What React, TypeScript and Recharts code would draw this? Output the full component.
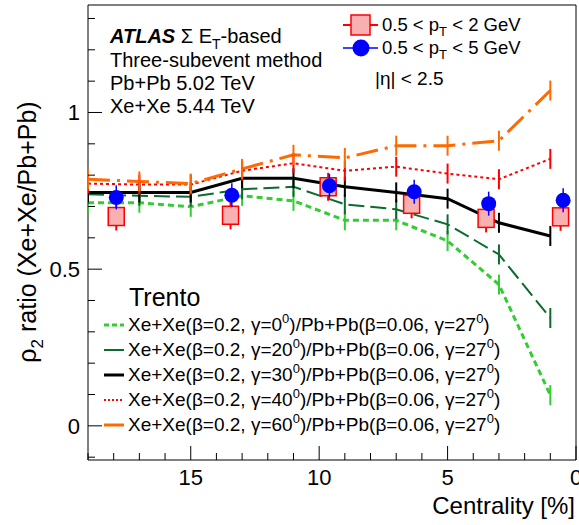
import React from "react";
import { ComposedChart, Line, Scatter, XAxis, YAxis, Customized } from "recharts";

const cent = [19, 17, 15, 13, 11, 9, 7, 5, 3, 1];
const g0 = [0.712, 0.712, 0.699, 0.734, 0.718, 0.656, 0.656, 0.59, 0.451, 0.098];
const g20 = [0.739, 0.734, 0.731, 0.755, 0.763, 0.707, 0.691, 0.643, 0.547, 0.344];
const g30 = [0.745, 0.745, 0.745, 0.79, 0.79, 0.763, 0.745, 0.725, 0.648, 0.606];
const g40 = [0.773, 0.77, 0.77, 0.814, 0.838, 0.814, 0.827, 0.805, 0.787, 0.852];
const g60 = [0.787, 0.78, 0.773, 0.82, 0.865, 0.855, 0.894, 0.894, 0.91, 1.07];
const redX = [17.9, 13.45, 9.65, 6.4, 3.5, 0.6];
const redY = [0.668, 0.672, 0.763, 0.707, 0.662, 0.667];
const blueX = [17.9, 13.4, 9.6, 6.3, 3.4, 0.5];
const blueY = [0.729, 0.736, 0.766, 0.747, 0.709, 0.72];
const xTicks = Array.from({ length: 20 }, (_, i) => i);
const yTicks = [-0.1, 0, 0.1, 0.2, 0.3, 0.4, 0.5, 0.6, 0.7, 0.8, 0.9, 1.0, 1.1, 1.2, 1.3];

const series = [
  { name: "0", vals: g0, color: "#33cc33", dash: "6 4", w: 3 },
  { name: "20", vals: g20, color: "#0d6b2e", dash: "16 6", w: 2 },
  { name: "30", vals: g30, color: "#000000", dash: undefined, w: 3 },
  { name: "40", vals: g40, color: "#ff0000", dash: "3 3", w: 2 },
  { name: "60", vals: g60, color: "#ff6a00", dash: "22 7 3 7", w: 3 },
];

const F = "Liberation Sans, Arial, sans-serif";

const tickDot = (color: string) => (p: any) =>
  <line key={p.index} x1={p.cx} x2={p.cx} y1={p.cy - 10} y2={p.cy + 10} stroke={color} strokeWidth={2} />;

const XTick = (p: any) => {
  const v = Math.round(p.payload.value);
  const major = v % 5 === 0;
  return (
    <g>
      <line x1={p.x} x2={p.x} y1={p.y} y2={p.y - (major ? 14 : 7)} stroke="#000" />
      {major && <text x={p.x} y={p.y + 25} textAnchor="middle" fontSize={22} fontFamily={F}>{v}</text>}
    </g>
  );
};
const XTopTick = (p: any) => {
  const v = Math.round(p.payload.value);
  const major = v % 5 === 0;
  return <line x1={p.x} x2={p.x} y1={p.y} y2={p.y + (major ? 14 : 7)} stroke="#000" />;
};
const YTick = (p: any) => {
  const v = Math.round(p.payload.value * 10) / 10;
  const major = Math.abs((v * 10) % 5) < 1e-6;
  const lbl = v === 0 ? "0" : v === 0.5 ? "0.5" : v === 1 ? "1" : "";
  return (
    <g>
      <line x1={p.x} x2={p.x + (major ? 14 : 7)} y1={p.y} y2={p.y} stroke="#000" />
      {lbl && <text x={p.x - 8} y={p.y + 8} textAnchor="end" fontSize={22} fontFamily={F}>{lbl}</text>}
    </g>
  );
};
const YRTick = (p: any) => {
  const v = Math.round(p.payload.value * 10) / 10;
  const major = Math.abs((v * 10) % 5) < 1e-6;
  return <line x1={p.x} x2={p.x - (major ? 14 : 7)} y1={p.y} y2={p.y} stroke="#000" />;
};

const RedShape = (p: any) => (
  <g>
    <line x1={p.cx} x2={p.cx} y1={p.cy - 14} y2={p.cy + 14} stroke="#ff0000" strokeWidth={2} />
    <rect x={p.cx - 8} y={p.cy - 9} width={16} height={18} fill="#f8b0b0" stroke="#ff0000" strokeWidth={1.5} />
  </g>
);
const BlueShape = (p: any) => (
  <g>
    <line x1={p.cx} x2={p.cx} y1={p.cy - 12} y2={p.cy + 12} stroke="#0000ff" strokeWidth={1.5} />
    <circle cx={p.cx} cy={p.cy} r={7.5} fill="#0000ff" />
  </g>
);

const redData = redX.map((x, i) => ({ x, y: redY[i] }));
const blueData = blueX.map((x, i) => ({ x, y: blueY[i] }));

export default function App() {
  const legY = [325, 350, 375, 400, 425];
  return (
    <div style={{ position: "fixed", left: 0, top: 0, width: 579, height: 525, background: "#fff" }}>
      <ComposedChart width={579} height={525} margin={{ top: 4, right: 2, bottom: 64, left: 87 }}>
        <XAxis xAxisId="b" type="number" dataKey="x" domain={[0, 19]} reversed ticks={xTicks} interval={0}
          tick={<XTick />} tickLine={false} tickSize={0} tickMargin={0} height={1} allowDataOverflow stroke="#000" />
        <XAxis xAxisId="t" orientation="top" type="number" dataKey="x" domain={[0, 19]} reversed ticks={xTicks} interval={0}
          tick={<XTopTick />} tickLine={false} tickSize={0} tickMargin={0} height={1} stroke="#000" />
        <YAxis yAxisId="l" type="number" domain={[-0.109, 1.343]} ticks={yTicks} interval={0}
          tick={<YTick />} tickLine={false} tickSize={0} tickMargin={0} width={1} allowDataOverflow stroke="#000" />
        <YAxis yAxisId="r" orientation="right" type="number" domain={[-0.109, 1.343]} ticks={yTicks} interval={0}
          tick={<YRTick />} tickLine={false} tickSize={0} tickMargin={0} width={1} stroke="#000" />
        {series.map((s) => (
          <Line key={s.name} xAxisId="b" yAxisId="l" data={cent.map((c, i) => ({ x: c, y: s.vals[i] }))}
            dataKey="y" type="linear" stroke={s.color} strokeWidth={s.w} strokeDasharray={s.dash}
            dot={tickDot(s.color)} activeDot={false} isAnimationActive={false} />
        ))}
        <Scatter xAxisId="b" yAxisId="l" data={redData} dataKey="y" shape={<RedShape />} isAnimationActive={false} />
        <Scatter xAxisId="b" yAxisId="l" data={blueData} dataKey="y" shape={<BlueShape />} isAnimationActive={false} />
        <Customized component={() => (
          <g fontFamily={F}>
            <text x={110} y={43} fontSize={20}>
              <tspan fontWeight="bold" fontStyle="italic">ATLAS</tspan>
              <tspan> Σ E</tspan><tspan fontSize={14} dy={6}>T</tspan><tspan dy={-6}>-based</tspan>
            </text>
            <text x={110} y={67} fontSize={20}>Three-subevent method</text>
            <text x={110} y={90} fontSize={20}>Pb+Pb 5.02 TeV</text>
            <text x={110} y={113} fontSize={20}>Xe+Xe 5.44 TeV</text>
            <line x1={343} x2={378} y1={25} y2={25} stroke="#ff0000" strokeWidth={2} />
            <rect x={351} y={15} width={19} height={20} fill="#f8b0b0" stroke="#ff0000" strokeWidth={1.5} />
            <text x={382} y={31} fontSize={18.5}>0.5 &lt; p<tspan fontSize={13} dy={5}>T</tspan><tspan dy={-5}> &lt; 2 GeV</tspan></text>
            <line x1={343} x2={378} y1={48} y2={48} stroke="#0000ff" strokeWidth={1.5} />
            <circle cx={361} cy={48} r={8.5} fill="#0000ff" />
            <text x={382} y={54} fontSize={18.5}>0.5 &lt; p<tspan fontSize={13} dy={5}>T</tspan><tspan dy={-5}> &lt; 5 GeV</tspan></text>
            <text x={375} y={85} fontSize={19}>|η| &lt; 2.5</text>
            <text x={129} y={306} fontSize={25}>Trento</text>
            {series.map((s, i) => (
              <g key={s.name}>
                <line x1={104} x2={124} y1={legY[i]} y2={legY[i]} stroke={s.color} strokeWidth={s.w} strokeDasharray={s.name === "40" ? "2 2" : s.name === "0" ? "5 3" : undefined} />
                <text x={128} y={legY[i] + 6} fontSize={19}>
                  Xe+Xe(β=0.2, γ={s.name}<tspan fontSize={13} dy={-8}>0</tspan><tspan dy={8}>)/Pb+Pb(β=0.06, γ=27</tspan><tspan fontSize={13} dy={-8}>0</tspan><tspan dy={8}>)</tspan>
                </text>
              </g>
            ))}
            <text x={575} y={514} fontSize={24} textAnchor="end">Centrality [%]</text>
            <text transform="translate(36,232) rotate(-90)" fontSize={25} textAnchor="middle">
              ρ<tspan fontSize={17} dy={7}>2</tspan><tspan dy={-7}> ratio (Xe+Xe/Pb+Pb)</tspan>
            </text>
          </g>
        )} />
      </ComposedChart>
    </div>
  );
}
